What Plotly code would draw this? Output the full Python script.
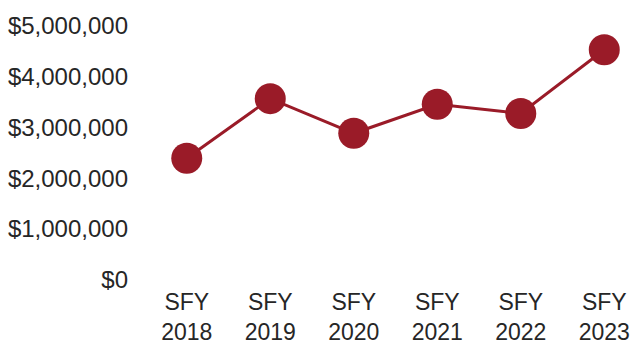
import plotly.graph_objects as go

# Fiscal years and annual totals (USD)
years = ["SFY<br>2018", "SFY<br>2019", "SFY<br>2020", "SFY<br>2021", "SFY<br>2022", "SFY<br>2023"]
totals = [2390000, 3560000, 2880000, 3450000, 3270000, 4520000]
y_ticks = [0, 1000000, 2000000, 3000000, 4000000, 5000000]
y_tick_labels = ["$0", "$1,000,000", "$2,000,000", "$3,000,000", "$4,000,000", "$5,000,000"]

line_color = "#9a1b28"
text_color = "#262626"

fig = go.Figure(
    go.Scatter(
        x=years,
        y=totals,
        mode="lines+markers",
        line=dict(color=line_color, width=3),
        marker=dict(color=line_color, size=31),
        cliponaxis=False,
        hoverinfo="skip",
    )
)

fig.update_layout(
    width=636,
    height=348,
    margin=dict(l=145, r=0, t=10, b=68),
    paper_bgcolor="white",
    plot_bgcolor="white",
    showlegend=False,
    font=dict(family="Liberation Sans, Arial, sans-serif", size=22, color=text_color),
    xaxis=dict(
        type="category",
        range=[-0.5, 5.38],
        showgrid=False,
        zeroline=False,
        showline=False,
        ticks="",
        ticklabelstandoff=6,
        tickfont=dict(size=23, color=text_color),
    ),
    yaxis=dict(
        range=[0, 5300000],
        tickvals=y_ticks,
        ticktext=y_tick_labels,
        showgrid=False,
        zeroline=False,
        showline=False,
        ticks="",
        ticklabelstandoff=16,
        tickfont=dict(size=24, color=text_color),
    ),
)

fig.write_html("out.html")
